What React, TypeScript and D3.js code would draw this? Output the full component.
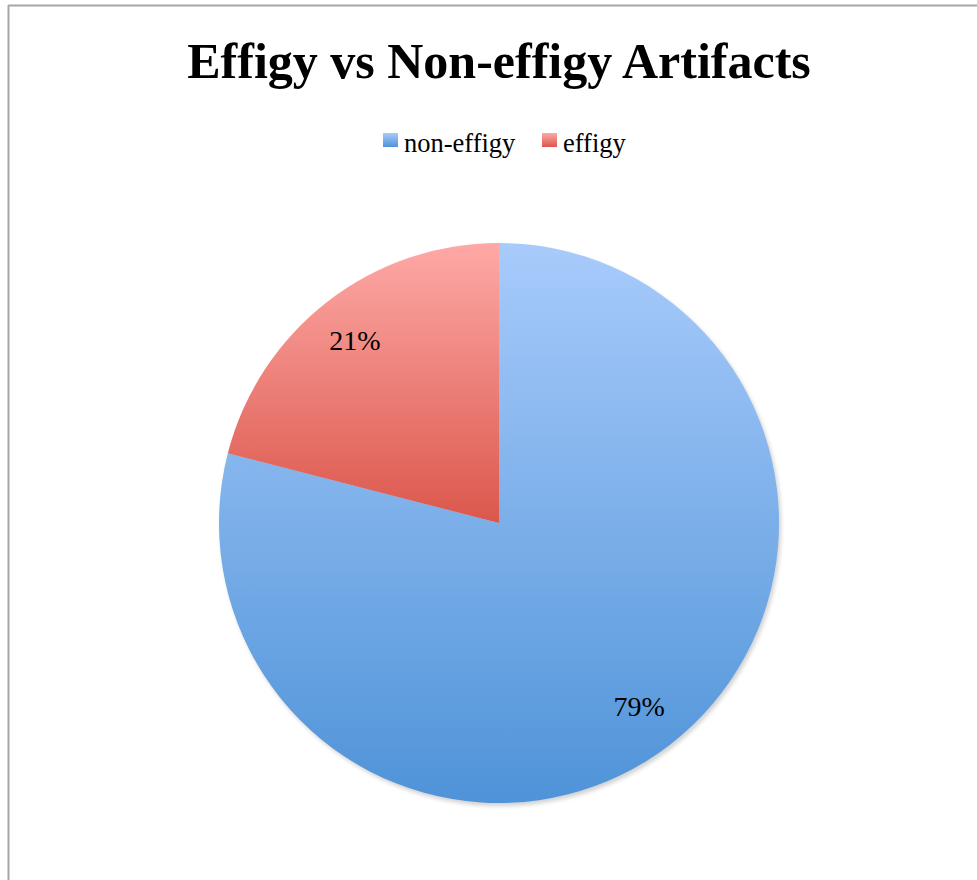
import React from "react";
import * as d3 from "d3";

const categories = ["non-effigy", "effigy"];
const values = [79, 21];
const labels = ["79%", "21%"];
const titleText = "Effigy vs Non-effigy Artifacts";

const W = 977;
const H = 880;
const cx = 499;
const cy = 523;
const R = 280;

const gradStops = [
  ["#a8cbfb", "#4f93d8"],
  ["#fea9a6", "#db574c"],
];

export default function App() {
  const pie = d3.pie<number>().sort(null).startAngle(0).endAngle(2 * Math.PI);
  const arcs = pie(values);
  const arc = d3.arc<d3.PieArcDatum<number>>().innerRadius(0).outerRadius(R);
  const labelArc = d3.arc<d3.PieArcDatum<number>>().innerRadius(232).outerRadius(232);
  const font = "'Liberation Serif', 'DejaVu Serif', serif";
  const legendX = [383, 542];
  return (
    <svg width={W} height={H} style={{ position: "absolute", left: 0, top: 0, background: "#fff" }}>
      <defs>
        {gradStops.map((g, i) => (
          <linearGradient key={i} id={`g${i}`} x1="0" y1="0" x2="0" y2="1">
            <stop offset="0" stopColor={g[0]} />
            <stop offset="1" stopColor={g[1]} />
          </linearGradient>
        ))}
        <filter id="sh" x="-10%" y="-10%" width="120%" height="120%">
          <feGaussianBlur stdDeviation="2" />
        </filter>
      </defs>
      <line x1={8.5} y1={5} x2={8.5} y2={H} stroke="#a6a6a6" strokeWidth={2} />
      <line x1={8} y1={5.5} x2={W} y2={5.5} stroke="#a6a6a6" strokeWidth={2} />
      <text x={499} y={78} textAnchor="middle" fontFamily={font} fontWeight="bold" fontSize={50} fill="#000">
        {titleText}
      </text>
      <g>
        {categories.map((c, i) => {
          const x0 = legendX[i];
          return (
            <g key={c}>
              <rect x={x0} y={133} width={15} height={14} fill={`url(#g${i})`} />
              <text x={x0 + 21} y={152} fontFamily={font} fontSize={26.5} fill="#000">
                {c}
              </text>
            </g>
          );
        })}
      </g>
      <circle cx={cx + 2} cy={cy + 3} r={R} fill="#000" opacity={0.18} filter="url(#sh)" />
      <g transform={`translate(${cx},${cy})`}>
        {arcs.map((a, i) => (
          <path key={i} d={arc(a) || ""} fill={`url(#g${i})`} />
        ))}
        {arcs.map((a, i) => {
          const [lx, ly] = labelArc.centroid(a);
          return (
            <text key={i} x={lx - 2} y={ly + 10} textAnchor="middle" fontFamily={font} fontSize={28} fill="#000">
              {labels[i]}
            </text>
          );
        })}
      </g>
    </svg>
  );
}
